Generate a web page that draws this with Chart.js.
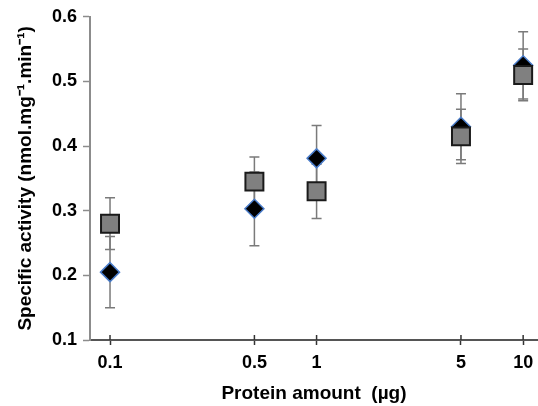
<!DOCTYPE html>
<html>
<head>
<meta charset="utf-8">
<script src="https://cdn.jsdelivr.net/npm/chart.js@4/dist/chart.umd.min.js"></script>
<style>
  body{margin:0;background:#fff;}
  canvas{display:block;}
</style>
</head>
<body>
<canvas id="grafico" width="538" height="406"></canvas>
<script>
// protein amount (ug)
const xValues=[0.1,0.5,1,5,10];
const xTicks=[0.1,0.5,1,5,10];
const yTicks=[0.1,0.2,0.3,0.4,0.5,0.6];

// squares
const squareMeans=[0.28,0.345,0.33,0.415,0.51];
const squareErrors=[0.04,0.038,0.042,0.042,0.04];

// diamonds
const diamondMeans=[0.205,0.303,0.381,0.43,0.525];
const diamondErrors=[0.055,0.057,0.051,0.051,0.052];

const FONT="'Liberation Sans', Arial, sans-serif";

function puntos(means){
  return xValues.map((x,i)=>({x:x,y:means[i]}));
}

//dibuja las barras de error antes de los puntos
const errorBars={
  id:"errorBars",
  beforeDatasetsDraw(chart){
    const ctx=chart.ctx;
    const xs=chart.scales.x, ys=chart.scales.y;
    ctx.save();
    ctx.strokeStyle="#7a7a7a";
    ctx.lineWidth=1.5;
    chart.data.datasets.forEach(ds=>{
      ds.data.forEach((p,i)=>{
        const e=ds.errores[i];
        const px=xs.getPixelForValue(p.x);
        const top=ys.getPixelForValue(p.y+e);
        const bot=ys.getPixelForValue(p.y-e);
        ctx.beginPath();
        ctx.moveTo(px,top);ctx.lineTo(px,bot);
        ctx.moveTo(px-5,top);ctx.lineTo(px+5,top);
        ctx.moveTo(px-5,bot);ctx.lineTo(px+5,bot);
        ctx.stroke();
      });
    });
    ctx.restore();
  },
  afterDraw(chart){
    //marcas del eje x que cruzan la linea
    const ctx=chart.ctx;
    const xs=chart.scales.x;
    const y0=chart.chartArea.bottom;
    ctx.save();
    ctx.strokeStyle="#333";
    ctx.lineWidth=1.5;
    xTicks.forEach(t=>{
      const px=xs.getPixelForValue(t);
      ctx.beginPath();
      ctx.moveTo(px,y0-5);ctx.lineTo(px,y0);
      ctx.stroke();
    });
    ctx.restore();
  }
};

new Chart("grafico",{
  type:"scatter",
  data:{
    datasets:[{
      label:"cuadrados",
      data:puntos(squareMeans),
      errores:squareErrors,
      pointStyle:"rect",
      pointRadius:12.7,
      pointHoverRadius:12.7,
      backgroundColor:"#808080",
      borderColor:"#1a1a1a",
      borderWidth:2,
      clip:false
    },{
      label:"rombos",
      data:puntos(diamondMeans),
      errores:diamondErrors,
      pointStyle:"rectRot",
      pointRadius:9.5,
      pointHoverRadius:9.5,
      backgroundColor:"#000",
      borderColor:"#4a7cc9",
      borderWidth:1.5,
      clip:false
    }]
  },
  options:{
    responsive:false,
    animation:false,
    layout:{autoPadding:false,padding:{top:15,right:0,left:0,bottom:0}},
    plugins:{
      legend:{display:false},
      tooltip:{enabled:false}
    },
    scales:{
      x:{
        type:"logarithmic",
        min:0.08,
        max:11.8,
        afterBuildTicks(scale){
          scale.ticks=xTicks.map(v=>({value:v}));
        },
        afterFit(scale){
          scale.height=66;
          scale.paddingRight=0;
          scale.paddingLeft=0;
        },
        border:{color:"#555",width:2},
        grid:{drawOnChartArea:false,tickLength:5,color:"#333",tickWidth:1.5},
        ticks:{
          color:"#000",
          padding:7,
          font:{family:FONT,size:18,weight:"bold"},
          callback:(v)=>String(v),
          maxRotation:0,
          autoSkip:false
        },
        title:{
          display:true,
          text:"Protein amount  (µg)",
          color:"#000",
          font:{family:FONT,size:19,weight:"bold"},
          padding:{top:0,bottom:1}
        }
      },
      y:{
        min:0.1,
        max:0.6,
        afterBuildTicks(scale){
          scale.ticks=yTicks.map(v=>({value:v}));
        },
        afterFit(scale){scale.width=90;},
        border:{color:"#8c8c8c",width:2},
        grid:{drawOnChartArea:false,tickLength:7,color:"#8c8c8c",tickWidth:1.5},
        ticks:{
          color:"#000",
          padding:6,
          font:{family:FONT,size:18,weight:"bold"},
          callback:(v)=>v.toFixed(1)
        },
        title:{
          display:true,
          text:"Specific activity (nmol.mg⁻¹.min⁻¹)",
          color:"#000",
          font:{family:FONT,size:19,weight:"bold"},
          padding:{top:14,bottom:0}
        }
      }
    }
  },
  plugins:[errorBars]
});
</script>
</body>
</html>
